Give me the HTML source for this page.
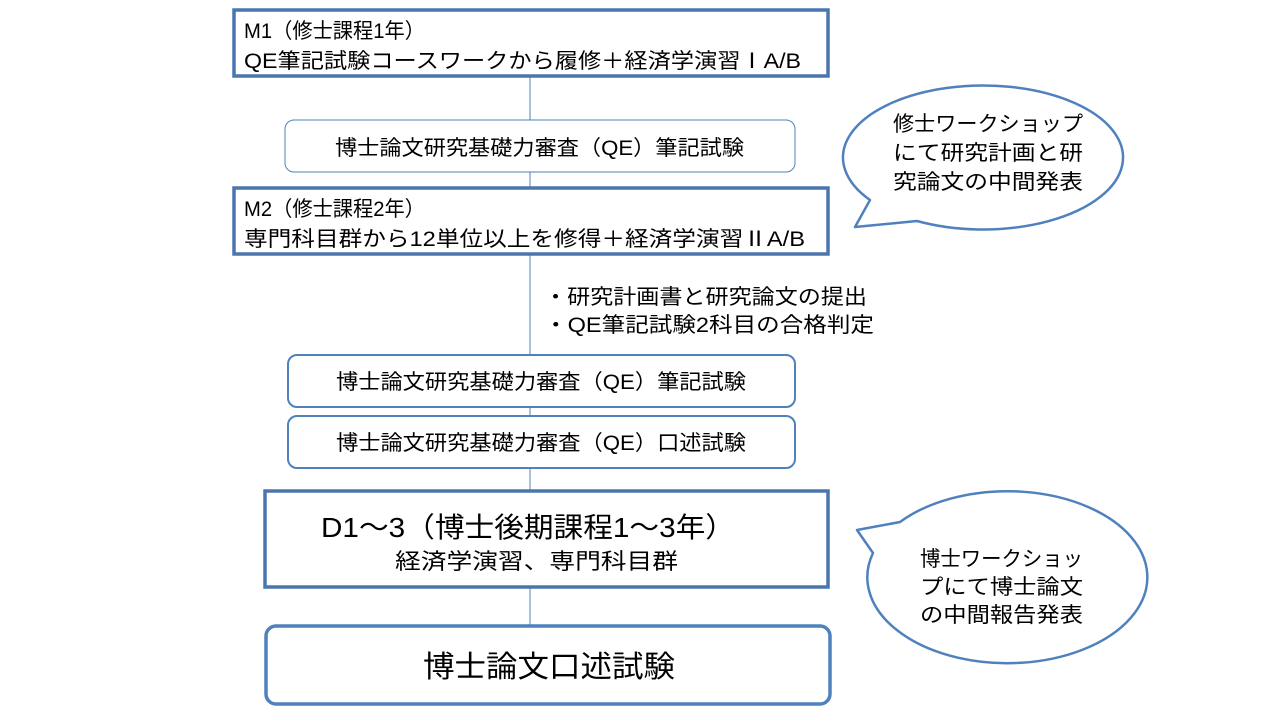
<!DOCTYPE html>
<html><head><meta charset="utf-8"><style>
html,body{margin:0;padding:0;background:#fff;}
svg{display:block;}
text{font-family:"Liberation Sans","Noto Sans CJK JP",sans-serif;fill:#000;}
</style></head><body>
<svg width="1280" height="720" viewBox="0 0 1280 720" xmlns="http://www.w3.org/2000/svg">
<line x1="530" y1="76" x2="530" y2="625" stroke="#4f81bd" stroke-width="1"/>
<rect x="234" y="10" width="594" height="66" fill="#fff" stroke="#4a76ad" stroke-width="3.5"/>
<text x="244" y="38" font-size="21" textLength="181" lengthAdjust="spacingAndGlyphs">M1（修士課程1年）</text>
<text x="244" y="68" font-size="21" textLength="557" lengthAdjust="spacingAndGlyphs">QE筆記試験コースワークから履修＋経済学演習ⅠA/B</text>

<rect x="285" y="120" width="510" height="52" rx="9" fill="#fff" stroke="#4f81bd" stroke-width="1"/>
<text x="335" y="155" font-size="21" textLength="409" lengthAdjust="spacingAndGlyphs">博士論文研究基礎力審査（QE）筆記試験</text>

<rect x="234" y="188" width="594" height="66" fill="#fff" stroke="#4a76ad" stroke-width="3.5"/>
<text x="244" y="216" font-size="21" textLength="181" lengthAdjust="spacingAndGlyphs">M2（修士課程2年）</text>
<text x="244" y="246" font-size="21" textLength="561" lengthAdjust="spacingAndGlyphs">専門科目群から12単位以上を修得＋経済学演習ⅡA/B</text>

<text x="544" y="304" font-size="21" textLength="323" lengthAdjust="spacingAndGlyphs">・研究計画書と研究論文の提出</text>
<text x="544" y="332" font-size="21" textLength="330" lengthAdjust="spacingAndGlyphs">・QE筆記試験2科目の合格判定</text>

<rect x="288" y="355" width="507" height="52" rx="9" fill="#fff" stroke="#4f81bd" stroke-width="2"/>
<text x="336" y="389" font-size="21" textLength="410" lengthAdjust="spacingAndGlyphs">博士論文研究基礎力審査（QE）筆記試験</text>
<rect x="288" y="416" width="507" height="52" rx="9" fill="#fff" stroke="#4f81bd" stroke-width="2"/>
<text x="336" y="450" font-size="21" textLength="410" lengthAdjust="spacingAndGlyphs">博士論文研究基礎力審査（QE）口述試験</text>

<rect x="265" y="491" width="563" height="96" fill="#fff" stroke="#4a76ad" stroke-width="3.5"/>
<text x="321" y="537" font-size="28" textLength="414" lengthAdjust="spacingAndGlyphs">D1～3（博士後期課程1～3年）</text>
<text x="395" y="569" font-size="22" textLength="283" lengthAdjust="spacingAndGlyphs">経済学演習、専門科目群</text>

<rect x="266" y="626" width="564" height="78" rx="10" fill="#fff" stroke="#4f81bd" stroke-width="3.5"/>
<text x="423" y="677" font-size="30" textLength="252" lengthAdjust="spacingAndGlyphs">博士論文口述試験</text>

<path d="M870,200 L855,227 L917,221 A140,72 0 1 0 870,200 Z" fill="#fff" stroke="#4f81bd" stroke-width="2.5" stroke-linejoin="round"/>
<text x="893" y="131" font-size="21" textLength="190" lengthAdjust="spacingAndGlyphs">修士ワークショップ</text>
<text x="893" y="160" font-size="21" textLength="190" lengthAdjust="spacingAndGlyphs">にて研究計画と研</text>
<text x="893" y="189" font-size="21" textLength="190" lengthAdjust="spacingAndGlyphs">究論文の中間発表</text>

<path d="M900,522 L857,530 L873,553 A140,86 0 1 0 900,522 Z" fill="#fff" stroke="#4f81bd" stroke-width="2.5" stroke-linejoin="round"/>
<text x="920" y="566" font-size="21" textLength="163" lengthAdjust="spacingAndGlyphs">博士ワークショッ</text>
<text x="920" y="594" font-size="21" textLength="163" lengthAdjust="spacingAndGlyphs">プにて博士論文</text>
<text x="920" y="622" font-size="21" textLength="163" lengthAdjust="spacingAndGlyphs">の中間報告発表</text>
</svg>
</body></html>
